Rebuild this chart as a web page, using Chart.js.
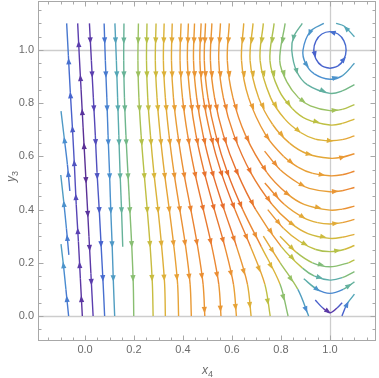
<!DOCTYPE html>
<html>
<head>
<meta charset="utf-8">
<script src="https://cdn.jsdelivr.net/npm/chart.js@4.4.1/dist/chart.umd.min.js"></script>
<style>
  html, body { margin: 0; padding: 0; background: #fff; }
</style>
</head>
<body>
<canvas id="chart" width="379" height="378"></canvas>
<script>
// axis ranges and ticks
const X_MIN = -0.192, X_MAX = 1.188;
const Y_MIN = -0.0902, Y_MAX = 1.1842;
const xTicks = [0, 0.2, 0.4, 0.6, 0.8, 1.0];
const yTicks = [0, 0.2, 0.4, 0.6, 0.8, 1.0];
const gridX = [1.0];
const gridY = [0.0, 1.0];

// streamlines left of x = 0, flowing upward (bottom -> top)
const upLines = [
  [[-0.067, 0], [-0.078, 0.1], [-0.088, 0.19], [-0.098, 0.27]],
  [[-0.066, 0.23], [-0.076, 0.33], [-0.087, 0.43], [-0.099, 0.53]],
  [[-0.062, 0.47], [-0.072, 0.57], [-0.085, 0.67], [-0.098, 0.77]],
  [[-0.011, 0], [-0.019, 0.14], [-0.027, 0.28], [-0.036, 0.42], [-0.043, 0.56], [-0.051, 0.7], [-0.06, 0.84], [-0.068, 0.98], [-0.075, 1.1]],
  [[0, 0.575], [-0.008, 0.71], [-0.016, 0.85], [-0.023, 0.97], [-0.03, 1.1]]
];

// streamlines flowing down to y = 0 (top -> bottom)
const downLines = [
  [[0, 0.575], [0.008, 0.44], [0.016, 0.3], [0.024, 0.16], [0.033, 0]],
  [[0.018, 1.1], [0.026, 0.96], [0.034, 0.82], [0.042, 0.68], [0.049, 0.54], [0.058, 0.4], [0.066, 0.26], [0.074, 0.12], [0.08, 0]],
  [[0.078, 1.1], [0.083, 0.96], [0.089, 0.82], [0.094, 0.68], [0.1, 0.54], [0.105, 0.4], [0.111, 0.26], [0.116, 0.12], [0.121, 0]],
  [[0.122, 1.1], [0.128, 0.96], [0.133, 0.82], [0.138, 0.68], [0.143, 0.54], [0.149, 0.4], [0.154, 0.26]],
  [[0.159, 1.1], [0.158, 0.96], [0.161, 0.82], [0.167, 0.68], [0.175, 0.54], [0.183, 0.4], [0.191, 0.26], [0.197, 0.12], [0.199, 0]],
  [[0.218, 1.1], [0.216, 0.96], [0.22, 0.82], [0.229, 0.68], [0.241, 0.54], [0.254, 0.4], [0.266, 0.26], [0.275, 0.12], [0.278, 0]],
  [[0.253, 1.1], [0.251, 0.96], [0.256, 0.82], [0.267, 0.68], [0.281, 0.54], [0.298, 0.4], [0.313, 0.26], [0.325, 0.12], [0.328, 0]],
  [[0.29, 1.1], [0.287, 0.96], [0.294, 0.82], [0.307, 0.68], [0.324, 0.54], [0.344, 0.4], [0.363, 0.26], [0.378, 0.12], [0.382, 0]],
  [[0.323, 1.1], [0.32, 0.96], [0.328, 0.82], [0.343, 0.68], [0.363, 0.54], [0.387, 0.4], [0.411, 0.26], [0.429, 0.12], [0.434, 0]],
  [[0.356, 1.1], [0.353, 0.96], [0.361, 0.82], [0.379, 0.68], [0.403, 0.54], [0.432, 0.4], [0.46, 0.26], [0.482, 0.12], [0.489, 0]],
  [[0.392, 1.1], [0.388, 0.96], [0.398, 0.82], [0.419, 0.68], [0.448, 0.54], [0.483, 0.4], [0.518, 0.26], [0.546, 0.12], [0.555, 0]],
  [[0.422, 1.1], [0.418, 0.96], [0.43, 0.82], [0.453, 0.68], [0.487, 0.54], [0.528, 0.4], [0.571, 0.26], [0.606, 0.12], [0.618, 0]],
  [[0.447, 1.1], [0.443, 0.96], [0.456, 0.82], [0.482, 0.68], [0.52, 0.54], [0.568, 0.4], [0.619, 0.26], [0.663, 0.12], [0.678, 0]],
  [[0.474, 1.1], [0.469, 0.96], [0.483, 0.82], [0.513, 0.68], [0.556, 0.54], [0.612, 0.4], [0.676, 0.26], [0.734, 0.12], [0.756, 0]],
  [[0.492, 1.1], [0.487, 0.96], [0.502, 0.82], [0.534, 0.68], [0.581, 0.54], [0.644, 0.4], [0.72, 0.26], [0.796, 0.12], [0.829, 0]],
  [[0.728, 0.3], [0.797, 0.2], [0.869, 0.1], [0.913, 0]]
];

// arcs round (1, 1): down the left side, right along the bottom, out at x = 1.1
const arcLines = [
  [[0.518, 1.1], [0.512, 0.96], [0.529, 0.82], [0.565, 0.68], [0.621, 0.54], [0.697, 0.4], [0.802, 0.26], [0.888, 0.18], [0.937, 0.15], [1, 0.135], [1.05, 0.144], [1.1, 0.167]],
  [[0.553, 1.1], [0.546, 0.96], [0.565, 0.82], [0.608, 0.68], [0.676, 0.54], [0.763, 0.42], [0.839, 0.35], [0.91, 0.31], [1, 0.292], [1.05, 0.296], [1.1, 0.307]],
  [[0.589, 1.1], [0.581, 0.96], [0.604, 0.82], [0.655, 0.68], [0.742, 0.54], [0.825, 0.46], [0.894, 0.42], [1, 0.398], [1.05, 0.402], [1.1, 0.413]],
  [[0.648, 1.1], [0.639, 0.96], [0.668, 0.82], [0.738, 0.68], [0.811, 0.6], [0.869, 0.56], [0.93, 0.536], [1, 0.527], [1.05, 0.531], [1.1, 0.544]],
  [[0.686, 1.1], [0.674, 0.96], [0.709, 0.82], [0.766, 0.72], [0.835, 0.65], [0.907, 0.61], [1, 0.593], [1.05, 0.597], [1.1, 0.61]],
  [[0.728, 1.1], [0.715, 0.96], [0.758, 0.82], [0.816, 0.74], [0.88, 0.69], [0.94, 0.665], [1, 0.659], [1.05, 0.663], [1.1, 0.677]],
  [[0.772, 1.1], [0.755, 0.96], [0.791, 0.85], [0.846, 0.78], [0.904, 0.74], [1, 0.718], [1.05, 0.724], [1.1, 0.74]],
  [[0.817, 1.1], [0.795, 0.96], [0.824, 0.88], [0.872, 0.82], [0.92, 0.79], [1, 0.772], [1.05, 0.777], [1.1, 0.795]],
  [[0.887, 1.1], [0.852, 1.05], [0.844, 1.0], [0.864, 0.92], [0.907, 0.87], [1, 0.837], [1.05, 0.846], [1.1, 0.87]]
];

// arcs that start inside the plot
const midArcs = [
  [[0.733, 0.62], [0.797, 0.55], [0.87, 0.5], [0.915, 0.48], [1, 0.467], [1.05, 0.471], [1.1, 0.483]],
  [[0.734, 0.5], [0.813, 0.42], [0.892, 0.37], [0.95, 0.351], [1, 0.346], [1.05, 0.351], [1.1, 0.363]],
  [[0.746, 0.4], [0.81, 0.33], [0.877, 0.28], [0.942, 0.25], [1, 0.242], [1.058, 0.25], [1.1, 0.265]],
  [[0.796, 0.3], [0.862, 0.24], [0.929, 0.2], [1, 0.185], [1.075, 0.2], [1.1, 0.211]],
  [[0.893, 0.14], [0.948, 0.1], [1, 0.085], [1.054, 0.1], [1.1, 0.128]]
];

// closed loops near the centre (1, 1)
const rings = [
  [[0.975, 1.1], [0.92, 1.07], [0.89, 1.0], [0.9, 0.95], [0.936, 0.91], [1, 0.89], [1.05, 0.903], [1.1, 0.95]],
  [[1.1, 1.05], [1.057, 1.09], [1.025, 1.1]],
  [[1, 0.931], [1.033, 0.94], [1.057, 0.9655], [1.066, 1], [1.057, 1.0345], [1.033, 1.06], [1, 1.069], [0.967, 1.06], [0.943, 1.0345], [0.934, 1], [0.943, 0.9655], [0.967, 0.94], [1, 0.931]]
];

// lines round the saddle at (1, 0)
const saddleLines = [
  [[0.94, 0.06], [0.971, 0.03], [1, 0.012], [1.029, 0.03], [1.05, 0.05]],
  [[1.049, 0], [1.062, 0.03], [1.073, 0.05], [1.1, 0.082]]
];

// colour by local speed: purple (slow) ... red-orange (fast)
const palette = [
  [0.00, [90, 45, 145]],
  [0.10, [91, 63, 176]],
  [0.22, [70, 101, 207]],
  [0.32, [74, 143, 208]],
  [0.40, [86, 170, 179]],
  [0.50, [114, 184, 135]],
  [0.57, [147, 193, 104]],
  [0.66, [187, 193, 68]],
  [0.74, [217, 182, 58]],
  [0.83, [232, 160, 54]],
  [0.90, [235, 138, 51]],
  [1.00, [229, 98, 42]]
];

function speedColor(x, y) {
  const a = Math.min(Math.abs(x), 1) * y * (1 - y);
  const b = x * (x - 1);
  const t = Math.min(1, Math.hypot(a, b) / 0.29);
  for (let i = 1; i < palette.length; i++) {
    if (t <= palette[i][0]) {
      const [t0, c0] = palette[i - 1];
      const [t1, c1] = palette[i];
      const k = (t - t0) / (t1 - t0);
      const c = c0.map((v, j) => Math.round(v + (c1[j] - v) * k));
      return `rgb(${c[0]},${c[1]},${c[2]})`;
    }
  }
  return "rgb(229,98,42)";
}

function colorAtPixel(chart, px, py) {
  return speedColor(chart.scales.x.getValueForPixel(px), chart.scales.y.getValueForPixel(py));
}

// arrowheads spaced along every streamline
const ARROW_GAP = 34;
const arrowPlugin = {
  id: "arrows",
  afterDatasetsDraw(chart) {
    const ctx = chart.ctx;
    ctx.save();
    chart.data.datasets.forEach((ds, i) => {
      const pts = chart.getDatasetMeta(i).data;
      let total = 0;
      for (let k = 1; k < pts.length; k++) total += Math.hypot(pts[k].x - pts[k - 1].x, pts[k].y - pts[k - 1].y);
      let next = Math.min(ARROW_GAP * 0.5, total * 0.5);
      let walked = 0;
      for (let k = 1; k < pts.length; k++) {
        const p0 = pts[k - 1], p1 = pts[k];
        const seg = Math.hypot(p1.x - p0.x, p1.y - p0.y);
        while (seg > 0 && next <= walked + seg && next < total - 6) {
          const t = (next - walked) / seg;
          const px = p0.x + t * (p1.x - p0.x);
          const py = p0.y + t * (p1.y - p0.y);
          const ux = (p1.x - p0.x) / seg, uy = (p1.y - p0.y) / seg;
          ctx.fillStyle = colorAtPixel(chart, px, py);
          ctx.beginPath();
          ctx.moveTo(px + ux * 3.5, py + uy * 3.5);
          ctx.lineTo(px - ux * 3 - uy * 2.6, py - uy * 3 + ux * 2.6);
          ctx.lineTo(px - ux * 3 + uy * 2.6, py - uy * 3 - ux * 2.6);
          ctx.closePath();
          ctx.fill();
          next += ARROW_GAP;
        }
        walked += seg;
      }
    });
    ctx.restore();
  }
};

// reference lines, frame, ticks and axis titles
const framePlugin = {
  id: "frame",
  beforeDatasetsDraw(chart) {
    const { ctx, chartArea: a, scales: { x, y } } = chart;
    ctx.save();
    ctx.strokeStyle = "#cdcdcd";
    ctx.lineWidth = 1.3;
    ctx.beginPath();
    gridX.forEach(v => {
      const px = Math.round(x.getPixelForValue(v)) + 0.5;
      ctx.moveTo(px, a.top);
      ctx.lineTo(px, a.bottom);
    });
    gridY.forEach(v => {
      const py = Math.round(y.getPixelForValue(v)) + 0.5;
      ctx.moveTo(a.left, py);
      ctx.lineTo(a.right, py);
    });
    ctx.stroke();
    ctx.restore();
  },
  afterDraw(chart) {
    const { ctx, chartArea: a, scales: { x, y } } = chart;
    ctx.save();
    const L = Math.round(a.left) + 0.5, R = Math.round(a.right) - 0.5;
    const T = Math.round(a.top) + 0.5, B = Math.round(a.bottom) + 0.5;
    ctx.strokeStyle = "#a8a8a8";
    ctx.lineWidth = 1;
    ctx.strokeRect(L, T, R - L, B - T);
    ctx.beginPath();
    for (let i = -4; i <= 24; i++) {
      const v = i * 0.05;
      const len = i % 4 === 0 ? 5 : 3;
      const px = Math.round(x.getPixelForValue(v)) + 0.5;
      if (px > L + 1 && px < R - 1) {
        ctx.moveTo(px, B); ctx.lineTo(px, B - len);
        ctx.moveTo(px, T); ctx.lineTo(px, T + len);
      }
      const py = Math.round(y.getPixelForValue(v)) + 0.5;
      if (py > T + 1 && py < B - 1) {
        ctx.moveTo(L, py); ctx.lineTo(L + len, py);
        ctx.moveTo(R, py); ctx.lineTo(R - len, py);
      }
    }
    ctx.stroke();

    ctx.fillStyle = "#6b6b6b";
    ctx.textBaseline = "alphabetic";
    ctx.font = 'italic 12px "Liberation Sans", Arial, sans-serif';
    ctx.fillText("x", 202, 374);
    ctx.font = '9px "Liberation Sans", Arial, sans-serif';
    ctx.fillText("4", 208, 377);
    ctx.translate(15, 182);
    ctx.rotate(-Math.PI / 2);
    ctx.font = 'italic 12px "Liberation Sans", Arial, sans-serif';
    ctx.fillText("y", 0, 0);
    ctx.font = '9px "Liberation Sans", Arial, sans-serif';
    ctx.fillText("3", 6, 3);
    ctx.restore();
  }
};

const allLines = [].concat(upLines, downLines, arcLines, midArcs, rings, saddleLines);

const datasets = allLines.map(line => ({
  data: line.map(([x, y]) => ({ x, y })),
  showLine: true,
  pointRadius: 0,
  pointHoverRadius: 0,
  borderWidth: 1.4,
  tension: 0.35,
  fill: false,
  borderColor: "#e8963a",
  segment: {
    borderColor: c => colorAtPixel(c.chart, (c.p0.x + c.p1.x) / 2, (c.p0.y + c.p1.y) / 2)
  }
}));

const tickFont = { family: '"Liberation Sans", Arial, sans-serif', size: 11 };

// drop the half-label padding Chart.js reserves at the axis ends
const noEndPadding = axis => {
  axis.paddingTop = 0;
  axis.paddingBottom = 0;
  axis.paddingLeft = 0;
  axis.paddingRight = 0;
};

new Chart(document.getElementById("chart"), {
  type: "scatter",
  data: { datasets },
  options: {
    responsive: false,
    animation: false,
    events: [],
    layout: { padding: { top: 1, right: 3, left: 0, bottom: 0 } },
    plugins: { legend: { display: false }, tooltip: { enabled: false } },
    scales: {
      x: {
        type: "linear",
        min: X_MIN,
        max: X_MAX,
        grid: { display: false, drawTicks: false },
        border: { display: false },
        afterBuildTicks: axis => { axis.ticks = xTicks.map(value => ({ value })); },
        afterFit: axis => { axis.height = 38; noEndPadding(axis); },
        ticks: { padding: 3, color: "#6b6b6b", font: tickFont, maxRotation: 0, autoSkip: false, callback: v => v.toFixed(1) }
      },
      y: {
        type: "linear",
        min: Y_MIN,
        max: Y_MAX,
        grid: { display: false, drawTicks: false },
        border: { display: false },
        afterBuildTicks: axis => { axis.ticks = yTicks.map(value => ({ value })); },
        afterFit: axis => { axis.width = 38; noEndPadding(axis); },
        ticks: { padding: 4, color: "#6b6b6b", font: tickFont, autoSkip: false, callback: v => v.toFixed(1) }
      }
    }
  },
  plugins: [framePlugin, arrowPlugin]
});
</script>
</body>
</html>
